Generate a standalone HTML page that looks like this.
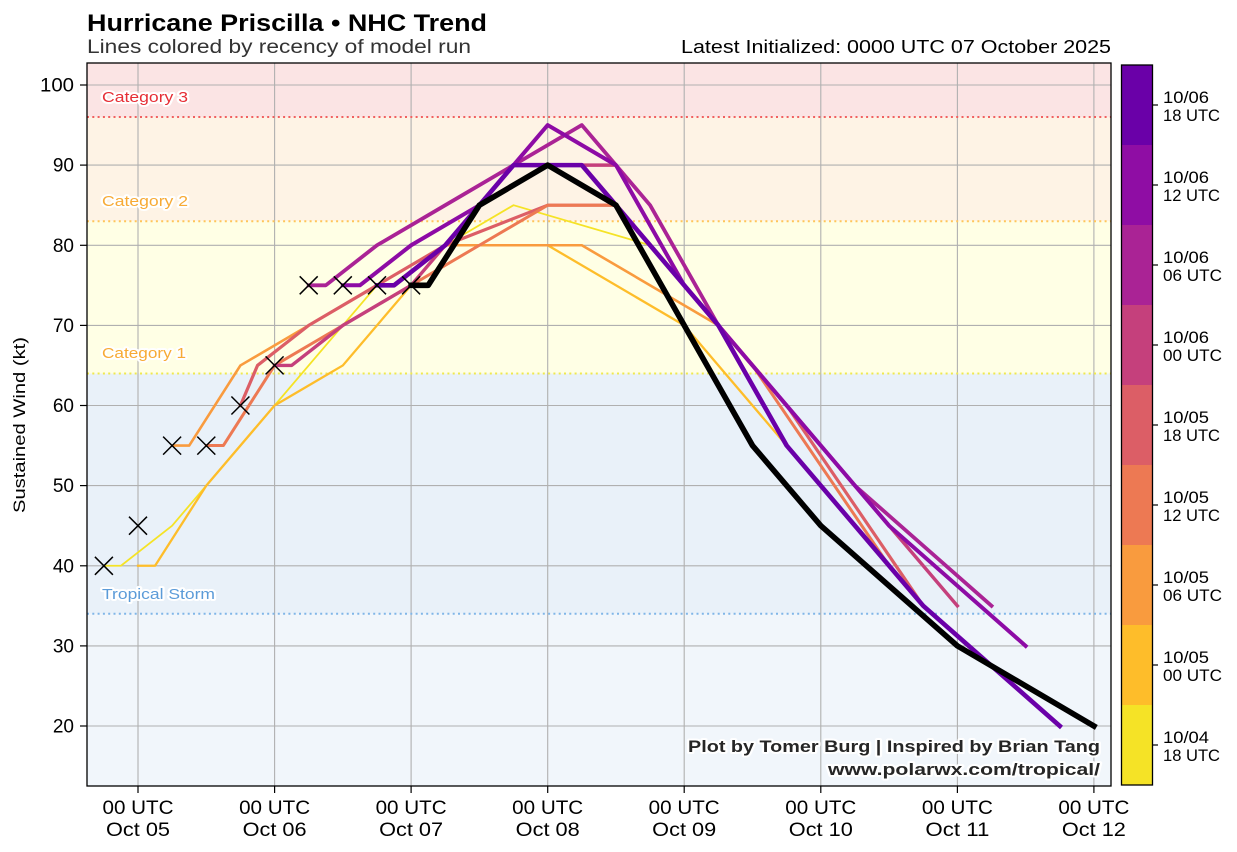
<!DOCTYPE html>
<html><head><meta charset="utf-8"><style>
html,body{margin:0;padding:0;background:#fff;}
svg{display:block;font-family:"Liberation Sans",sans-serif;}
.halo{paint-order:stroke;stroke:#fff;stroke-width:4;stroke-linejoin:round;}
</style></head><body>
<svg width="1237" height="852" viewBox="0 0 1237 852" xmlns="http://www.w3.org/2000/svg">
<rect x="0" y="0" width="1237" height="852" fill="#fff"/>
<!-- bands -->
<rect x="87" y="63" width="1024" height="54" fill="#fbe4e4"/>
<rect x="87" y="117" width="1024" height="104.2" fill="#fef3e5"/>
<rect x="87" y="221.2" width="1024" height="152.3" fill="#ffffe5"/>
<rect x="87" y="373.5" width="1024" height="240.3" fill="#e9f1f9"/>
<rect x="87" y="613.8" width="1024" height="172.2" fill="#f1f6fb"/>
<!-- grid -->
<g stroke="#b0b0b0" stroke-width="1.1">
<line x1="138" y1="63" x2="138" y2="786"/><line x1="274.6" y1="63" x2="274.6" y2="786"/>
<line x1="411.1" y1="63" x2="411.1" y2="786"/><line x1="547.7" y1="63" x2="547.7" y2="786"/>
<line x1="684.2" y1="63" x2="684.2" y2="786"/><line x1="820.8" y1="63" x2="820.8" y2="786"/>
<line x1="957.4" y1="63" x2="957.4" y2="786"/><line x1="1093.9" y1="63" x2="1093.9" y2="786"/>
<line x1="87" y1="726" x2="1111" y2="726"/><line x1="87" y1="645.9" x2="1111" y2="645.9"/>
<line x1="87" y1="565.8" x2="1111" y2="565.8"/><line x1="87" y1="485.6" x2="1111" y2="485.6"/>
<line x1="87" y1="405.5" x2="1111" y2="405.5"/><line x1="87" y1="325.4" x2="1111" y2="325.4"/>
<line x1="87" y1="245.3" x2="1111" y2="245.3"/><line x1="87" y1="165.1" x2="1111" y2="165.1"/>
<line x1="87" y1="85" x2="1111" y2="85"/>
</g>
<!-- category dotted lines -->
<g stroke-width="2" stroke-dasharray="2 3.3" fill="none">
<line x1="87" y1="117" x2="1111" y2="117" stroke="#f06060"/>
<line x1="87" y1="221.2" x2="1111" y2="221.2" stroke="#ffc55a"/>
<line x1="87" y1="373.5" x2="1111" y2="373.5" stroke="#efe84e"/>
<line x1="87" y1="613.8" x2="1111" y2="613.8" stroke="#80b6e8"/>
</g>
<!-- category labels -->
<g font-size="15" class="halo">
<text x="102" y="102" fill="#e62e35" textLength="86" lengthAdjust="spacingAndGlyphs">Category 3</text>
<text x="102" y="206" fill="#f7aa35" textLength="86" lengthAdjust="spacingAndGlyphs">Category 2</text>
<text x="102" y="358" fill="#f7aa35" textLength="84" lengthAdjust="spacingAndGlyphs">Category 1</text>
<text x="102" y="599" fill="#5b9bd8" textLength="113" lengthAdjust="spacingAndGlyphs">Tropical Storm</text>
</g>
<!-- forecast lines -->
<g fill="none" stroke-linejoin="round" stroke-linecap="square">
<polyline stroke="#f5e326" stroke-width="1.8" points="103.86,565.75 120.93,565.75 172.14,525.69 240.42,445.56 308.7,365.44 376.98,285.31 445.26,245.25 513.54,205.19 650.1,245.25"/>
<polyline stroke="#febd2a" stroke-width="2.3" points="138,565.75 155.07,565.75 206.28,485.63 274.56,405.5 342.84,365.44 411.12,285.31 479.4,245.25 547.68,245.25 684.24,325.38 820.8,485.63"/>
<polyline stroke="#f99b3e" stroke-width="2.6" points="172.14,445.56 189.21,445.56 240.42,365.44 308.7,325.38 376.98,285.31 445.26,245.25 513.54,245.25 581.82,245.25 718.38,325.38 854.94,485.63"/>
<polyline stroke="#dc5e66" stroke-width="3.2" points="240.42,405.5 257.49,365.44 308.7,325.38 376.98,285.31 445.26,245.25 547.68,205.19 615.96,205.19 786.66,405.5 923.22,605.81"/>
<polyline stroke="#ed7953" stroke-width="3" points="206.28,445.56 223.35,445.56 274.56,365.44 342.84,325.38 411.12,285.31 479.4,245.25 547.68,205.19 615.96,205.19 752.52,365.44 889.08,565.75"/>
<polyline stroke="#c5407c" stroke-width="3.4" points="274.56,365.44 291.63,365.44 342.84,325.38 411.12,285.31 479.4,205.19 547.68,165.13 615.96,165.13 684.24,285.31 820.8,445.56 957.36,605.81"/>
<polyline stroke="#aa2395" stroke-width="3.8" points="308.7,285.31 325.77,285.31 376.98,245.25 445.26,205.19 513.54,165.13 581.82,125.06 650.1,205.19 718.38,325.38 854.94,485.63 991.5,605.81"/>
<polyline stroke="#8d0ba5" stroke-width="4" points="342.84,285.31 359.91,285.31 411.12,245.25 479.4,205.19 547.68,125.06 615.96,165.13 684.24,285.31 752.52,365.44 889.08,525.69 1025.64,645.88"/>
<polyline stroke="#6a00a8" stroke-width="4.6" points="376.98,285.31 394.05,285.31 445.26,245.25 513.54,165.13 581.82,165.13 650.1,245.25 718.38,325.38 786.66,445.56 923.22,605.81 1059.78,726"/>
<polyline stroke="#000" stroke-width="5.6" points="411.12,285.31 428.19,285.31 479.4,205.19 547.68,165.13 615.96,205.19 684.24,325.38 752.52,445.56 820.8,525.69 957.36,645.88 1093.92,726"/>
</g>
<!-- observed X markers -->
<g stroke="#000" stroke-width="1.5" fill="none">
<path d="M94.9,556.8 l18,18 M94.9,574.8 l18,-18"/>
<path d="M129,516.7 l18,18 M129,534.7 l18,-18"/>
<path d="M163.1,436.6 l18,18 M163.1,454.6 l18,-18"/>
<path d="M197.3,436.6 l18,18 M197.3,454.6 l18,-18"/>
<path d="M231.4,396.5 l18,18 M231.4,414.5 l18,-18"/>
<path d="M265.6,356.4 l18,18 M265.6,374.4 l18,-18"/>
<path d="M299.7,276.3 l18,18 M299.7,294.3 l18,-18"/>
<path d="M333.8,276.3 l18,18 M333.8,294.3 l18,-18"/>
<path d="M368,276.3 l18,18 M368,294.3 l18,-18"/>
<path d="M402.1,276.3 l18,18 M402.1,294.3 l18,-18"/>
</g>
<!-- watermark -->
<g font-size="17" font-weight="bold" fill="#262626" text-anchor="end" class="halo">
<text x="1100" y="752" textLength="412" lengthAdjust="spacingAndGlyphs">Plot by Tomer Burg | Inspired by Brian Tang</text>
<text x="1100" y="775" textLength="272" lengthAdjust="spacingAndGlyphs">www.polarwx.com/tropical/</text>
</g>
<!-- frame -->
<rect x="87" y="63" width="1024" height="723" fill="none" stroke="#000" stroke-width="1.3"/>
<!-- ticks -->
<g stroke="#000" stroke-width="1.2">
<line x1="80" y1="726" x2="87" y2="726"/><line x1="80" y1="645.9" x2="87" y2="645.9"/>
<line x1="80" y1="565.8" x2="87" y2="565.8"/><line x1="80" y1="485.6" x2="87" y2="485.6"/>
<line x1="80" y1="405.5" x2="87" y2="405.5"/><line x1="80" y1="325.4" x2="87" y2="325.4"/>
<line x1="80" y1="245.3" x2="87" y2="245.3"/><line x1="80" y1="165.1" x2="87" y2="165.1"/>
<line x1="80" y1="85" x2="87" y2="85"/>
<line x1="138" y1="786" x2="138" y2="793"/><line x1="274.6" y1="786" x2="274.6" y2="793"/>
<line x1="411.1" y1="786" x2="411.1" y2="793"/><line x1="547.7" y1="786" x2="547.7" y2="793"/>
<line x1="684.2" y1="786" x2="684.2" y2="793"/><line x1="820.8" y1="786" x2="820.8" y2="793"/>
<line x1="957.4" y1="786" x2="957.4" y2="793"/><line x1="1093.9" y1="786" x2="1093.9" y2="793"/>
</g>
<g font-size="19" fill="#000" text-anchor="end">
<text x="74" y="732.5">20</text><text x="74" y="652.4">30</text><text x="74" y="572.3">40</text>
<text x="74" y="492.1">50</text><text x="74" y="412">60</text><text x="74" y="331.9">70</text>
<text x="74" y="251.8">80</text><text x="74" y="171.6">90</text><text x="74" y="91.5" textLength="34" lengthAdjust="spacingAndGlyphs">100</text>
</g>
<g font-size="19" fill="#000" text-anchor="middle">
<text x="138" y="814" textLength="71" lengthAdjust="spacingAndGlyphs">00 UTC</text><text x="138" y="836" textLength="64" lengthAdjust="spacingAndGlyphs">Oct 05</text>
<text x="274.6" y="814" textLength="71" lengthAdjust="spacingAndGlyphs">00 UTC</text><text x="274.6" y="836" textLength="64" lengthAdjust="spacingAndGlyphs">Oct 06</text>
<text x="411.1" y="814" textLength="71" lengthAdjust="spacingAndGlyphs">00 UTC</text><text x="411.1" y="836" textLength="64" lengthAdjust="spacingAndGlyphs">Oct 07</text>
<text x="547.7" y="814" textLength="71" lengthAdjust="spacingAndGlyphs">00 UTC</text><text x="547.7" y="836" textLength="64" lengthAdjust="spacingAndGlyphs">Oct 08</text>
<text x="684.2" y="814" textLength="71" lengthAdjust="spacingAndGlyphs">00 UTC</text><text x="684.2" y="836" textLength="64" lengthAdjust="spacingAndGlyphs">Oct 09</text>
<text x="820.8" y="814" textLength="71" lengthAdjust="spacingAndGlyphs">00 UTC</text><text x="820.8" y="836" textLength="64" lengthAdjust="spacingAndGlyphs">Oct 10</text>
<text x="957.4" y="814" textLength="71" lengthAdjust="spacingAndGlyphs">00 UTC</text><text x="957.4" y="836" textLength="64" lengthAdjust="spacingAndGlyphs">Oct 11</text>
<text x="1093.9" y="814" textLength="71" lengthAdjust="spacingAndGlyphs">00 UTC</text><text x="1093.9" y="836" textLength="64" lengthAdjust="spacingAndGlyphs">Oct 12</text>
</g>
<text transform="translate(25,425) rotate(-90)" font-size="17" text-anchor="middle" fill="#000" textLength="176" lengthAdjust="spacingAndGlyphs">Sustained Wind (kt)</text>
<!-- titles -->
<text x="87" y="31" font-size="24" font-weight="bold" fill="#000" textLength="400" lengthAdjust="spacingAndGlyphs">Hurricane Priscilla • NHC Trend</text>
<text x="87" y="53" font-size="19.5" fill="#333" textLength="384" lengthAdjust="spacingAndGlyphs">Lines colored by recency of model run</text>
<text x="1111" y="53" font-size="18" fill="#000" text-anchor="end" textLength="430" lengthAdjust="spacingAndGlyphs">Latest Initialized: 0000 UTC 07 October 2025</text>
<!-- colorbar -->
<rect x="1121.5" y="65" width="31" height="80" fill="#6a00a8"/>
<rect x="1121.5" y="145" width="31" height="80" fill="#8f0da4"/>
<rect x="1121.5" y="225" width="31" height="80" fill="#aa2395"/>
<rect x="1121.5" y="305" width="31" height="80" fill="#c5407c"/>
<rect x="1121.5" y="385" width="31" height="80" fill="#dc5e66"/>
<rect x="1121.5" y="465" width="31" height="80" fill="#ed7953"/>
<rect x="1121.5" y="545" width="31" height="80" fill="#f99b3e"/>
<rect x="1121.5" y="625" width="31" height="80" fill="#febd2a"/>
<rect x="1121.5" y="705" width="31" height="80" fill="#f5e326"/>
<rect x="1121.5" y="65" width="31" height="720" fill="none" stroke="#000" stroke-width="1.3"/>
<g stroke="#000" stroke-width="1.2">
<line x1="1152.5" y1="105" x2="1158" y2="105"/><line x1="1152.5" y1="185" x2="1158" y2="185"/>
<line x1="1152.5" y1="265" x2="1158" y2="265"/><line x1="1152.5" y1="345" x2="1158" y2="345"/>
<line x1="1152.5" y1="425" x2="1158" y2="425"/><line x1="1152.5" y1="505" x2="1158" y2="505"/>
<line x1="1152.5" y1="585" x2="1158" y2="585"/><line x1="1152.5" y1="665" x2="1158" y2="665"/>
<line x1="1152.5" y1="745" x2="1158" y2="745"/>
</g>
<g font-size="16.5" fill="#000">
<text x="1163" y="103" textLength="46" lengthAdjust="spacingAndGlyphs">10/06</text><text x="1163" y="121" textLength="57" lengthAdjust="spacingAndGlyphs">18 UTC</text>
<text x="1163" y="183" textLength="46" lengthAdjust="spacingAndGlyphs">10/06</text><text x="1163" y="201" textLength="57" lengthAdjust="spacingAndGlyphs">12 UTC</text>
<text x="1163" y="263" textLength="46" lengthAdjust="spacingAndGlyphs">10/06</text><text x="1163" y="281" textLength="59" lengthAdjust="spacingAndGlyphs">06 UTC</text>
<text x="1163" y="343" textLength="46" lengthAdjust="spacingAndGlyphs">10/06</text><text x="1163" y="361" textLength="59" lengthAdjust="spacingAndGlyphs">00 UTC</text>
<text x="1163" y="423" textLength="46" lengthAdjust="spacingAndGlyphs">10/05</text><text x="1163" y="441" textLength="57" lengthAdjust="spacingAndGlyphs">18 UTC</text>
<text x="1163" y="503" textLength="46" lengthAdjust="spacingAndGlyphs">10/05</text><text x="1163" y="521" textLength="57" lengthAdjust="spacingAndGlyphs">12 UTC</text>
<text x="1163" y="583" textLength="46" lengthAdjust="spacingAndGlyphs">10/05</text><text x="1163" y="601" textLength="59" lengthAdjust="spacingAndGlyphs">06 UTC</text>
<text x="1163" y="663" textLength="46" lengthAdjust="spacingAndGlyphs">10/05</text><text x="1163" y="681" textLength="59" lengthAdjust="spacingAndGlyphs">00 UTC</text>
<text x="1163" y="743" textLength="46" lengthAdjust="spacingAndGlyphs">10/04</text><text x="1163" y="761" textLength="57" lengthAdjust="spacingAndGlyphs">18 UTC</text>
</g>
</svg>
</body></html>
